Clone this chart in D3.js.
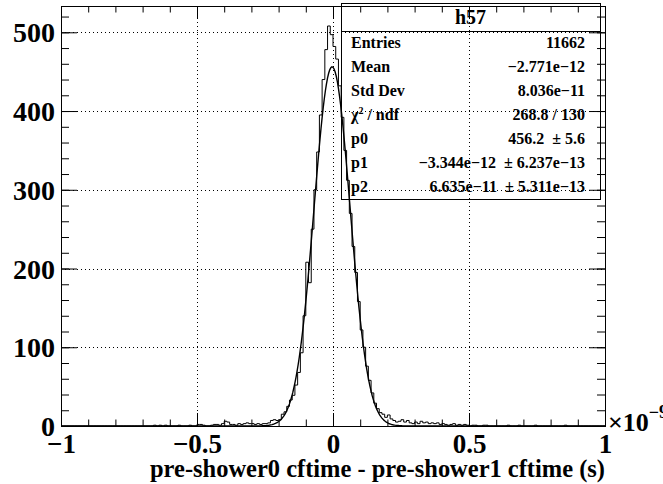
<!DOCTYPE html>
<html>
<head>
<meta charset="utf-8">
<script src="https://cdn.jsdelivr.net/npm/d3@7"></script>
<style>
  body { margin: 0; background: #fff; }
  text { font-family: "Liberation Serif", "Times New Roman", serif; font-weight: bold; fill: #000; }
</style>
</head>
<body>
<div id="chart"></div>
<script>
// histogram h57: 200 bins from -1e-9 to 1e-9 s (x in units of 1e-9)
var xMin = -1, xMax = 1, nBins = 200;
var counts = [
  0,0,0,0,0,0,0,0,0,0,
  0,0,0,0,0,0,0,0,0,0,
  0,0,0,0,0,0,0,0,0,0,
  0,0,0,0,1,0,1,0,1,0,
  0,0,0,1,0,0,0,1,0,0,
  2,2,1,0,0,1,2,2,1,3,
  6,5,2,2,1,3,2,3,4,3,
  3,2,3,2,3,3,4,7,8,7,
  8,15,18,25,33,39,52,68,93,140,
  208,182,250,300,348,395,440,478,508,497,
  482,466,432,392,350,312,270,228,195,158,
  122,100,76,58,42,29,22,17,15,11,
  14,9,7,5,6,8,5,7,4,3,
  5,3,6,4,5,3,4,3,4,2,
  3,2,1,2,3,1,2,1,2,1,
  0,1,1,0,0,1,1,0,0,0,
  0,0,0,0,1,0,0,0,1,0,
  0,0,0,0,1,0,0,0,0,0,
  0,0,0,0,0,1,0,0,0,0,
  0,0,0,0,0,0,0,0,0,0
];

// gaus fit parameters (p1, p2 in seconds)
var p0 = 456.2, p1 = -3.344e-12, p2 = 6.635e-11;

var xMajor = [-1, -0.5, 0, 0.5, 1];
var yMajor = [0, 100, 200, 300, 400, 500];

var statNames = ["Entries", "Mean", "Std Dev", "chi2", "p0", "p1", "p2"];
var statValues = ["11662", "\u22122.771e\u221212", "8.036e\u221211", "268.8 / 130",
  "456.2  \u00b1 5.6", "\u22123.344e\u221212  \u00b1 6.237e\u221213", "6.635e\u221211  \u00b1 5.311e\u221213"];

var width = 663, height = 484;
var L = 61, R = 605, T = 6, B = 426;

var svg = d3.select("#chart").append("svg")
    .attr("width", width)
    .attr("height", height);

var yTop = d3.max(counts) * 1.05;
var x = d3.scaleLinear().domain([xMin, xMax]).range([L, R]);
var y = d3.scaleLinear().domain([0, yTop]).range([B, T]);

var binW = (xMax - xMin) / nBins;
var xMinor = d3.range(xMin, xMax + binW / 2, 0.1).map(function(d) { return +d.toFixed(2); });
var yMinor = d3.range(0, yTop, 20);

// grid
svg.append("g").selectAll("line")
    .data(xMajor.slice(1, -1))
    .enter().append("line")
    .attr("x1", function(d) { return Math.round(x(d)) + 0.5; })
    .attr("x2", function(d) { return Math.round(x(d)) + 0.5; })
    .attr("y1", T).attr("y2", B)
    .attr("stroke", "#000").attr("stroke-width", 1)
    .attr("stroke-dasharray", "1,3");
svg.append("g").selectAll("line")
    .data(yMajor.slice(1))
    .enter().append("line")
    .attr("y1", function(d) { return Math.round(y(d)) + 0.5; })
    .attr("y2", function(d) { return Math.round(y(d)) + 0.5; })
    .attr("x1", L).attr("x2", R)
    .attr("stroke", "#000").attr("stroke-width", 1)
    .attr("stroke-dasharray", "1,3");

// axes with inward ticks
function ticks(axis, tr) {
  var g = svg.append("g").attr("transform", tr).call(axis);
  g.select(".domain").remove();
  g.selectAll("line").attr("stroke", "#000");
  return g;
}
var fmt = d3.format("~g");
ticks(d3.axisBottom(x).tickValues(xMinor).tickSize(-6.5).tickFormat(""), "translate(0," + B + ")");
ticks(d3.axisTop(x).tickValues(xMinor).tickSize(-6.5).tickFormat(""), "translate(0," + T + ")");
ticks(d3.axisTop(x).tickValues(xMajor).tickSize(-13).tickFormat(""), "translate(0," + T + ")");
var gx = ticks(d3.axisBottom(x).tickValues(xMajor).tickSize(-13).tickPadding(8).tickFormat(fmt), "translate(0," + B + ")");
gx.selectAll("text").attr("font-size", 27).attr("font-family", null);

ticks(d3.axisLeft(y).tickValues(yMinor).tickSize(-8).tickFormat(""), "translate(" + L + ",0)");
ticks(d3.axisRight(y).tickValues(yMinor).tickSize(-8).tickFormat(""), "translate(" + R + ",0)");
ticks(d3.axisRight(y).tickValues(yMajor).tickSize(-16).tickFormat(""), "translate(" + R + ",0)");
var gy = ticks(d3.axisLeft(y).tickValues(yMajor).tickSize(-16).tickPadding(6).tickFormat(fmt), "translate(" + L + ",0)");
gy.selectAll("text").attr("font-size", 28).attr("font-family", null).attr("dy", "0.34em");

// histogram outline
var pts = counts.map(function(c, i) { return [xMin + i * binW, c]; });
pts.push([xMax, counts[nBins - 1]]);
svg.append("path")
    .datum(pts)
    .attr("fill", "none")
    .attr("stroke", "#000")
    .attr("stroke-width", 1)
    .attr("d", d3.line()
        .x(function(d) { return x(d[0]); })
        .y(function(d) { return y(d[1]); })
        .curve(d3.curveStepAfter));

// gaussian fit
var fitX = d3.range(xMin, xMax + 1e-6, 0.004);
svg.append("path")
    .datum(fitX)
    .attr("fill", "none")
    .attr("stroke", "#000")
    .attr("stroke-width", 1.4)
    .attr("d", d3.line()
        .x(function(d) { return x(d); })
        .y(function(d) {
          var t = (d * 1e-9 - p1) / p2;
          return y(p0 * Math.exp(-0.5 * t * t));
        }));

// frame
svg.append("rect")
    .attr("x", L + 0.5).attr("y", T + 0.5)
    .attr("width", R - L).attr("height", B - T)
    .attr("fill", "none").attr("stroke", "#000");

// axis labels
svg.append("text")
    .attr("x", R).attr("y", 477)
    .attr("text-anchor", "end")
    .attr("font-size", 26)
    .attr("textLength", 455)
    .attr("lengthAdjust", "spacingAndGlyphs")
    .text("pre-shower0 cftime - pre-shower1 cftime (s)");

var ex = svg.append("text").attr("x", 608).attr("y", 431).attr("font-size", 26);
ex.append("tspan").text("\u00d710");
ex.append("tspan").attr("font-size", 18).attr("dy", -13).text("\u22129");

// stats box
var sx0 = 341, sx1 = 600, sy0 = 3, sy1 = 199, sTitle = 31;
var st = svg.append("g");
st.append("rect")
    .attr("x", sx0 + 0.5).attr("y", sy0 + 0.5)
    .attr("width", sx1 - sx0).attr("height", sy1 - sy0)
    .attr("fill", "none").attr("stroke", "#000");
st.append("line")
    .attr("x1", sx0).attr("x2", sx1 + 0.5)
    .attr("y1", sTitle + 0.5).attr("y2", sTitle + 0.5)
    .attr("stroke", "#000");
st.append("text")
    .attr("x", (sx0 + sx1) / 2).attr("y", 24)
    .attr("text-anchor", "middle")
    .attr("font-size", 20)
    .text("h57");

var rowH = (sy1 - sTitle) / statNames.length;
statNames.forEach(function(n, i) {
  var by = sTitle + rowH * (i + 0.5) + 5;
  var t = st.append("text").attr("x", 351).attr("y", by).attr("font-size", 16);
  if (n === "chi2") {
    t.append("tspan").text("\u03c7");
    t.append("tspan").attr("font-size", 10).attr("dy", -6).text("2");
    t.append("tspan").attr("dy", 6).text(" / ndf");
  } else {
    t.text(n);
  }
  st.append("text")
      .attr("x", 585).attr("y", by)
      .attr("text-anchor", "end")
      .attr("font-size", 16)
      .attr("xml:space", "preserve")
      .style("white-space", "pre")
      .text(statValues[i]);
});
</script>
</body>
</html>
